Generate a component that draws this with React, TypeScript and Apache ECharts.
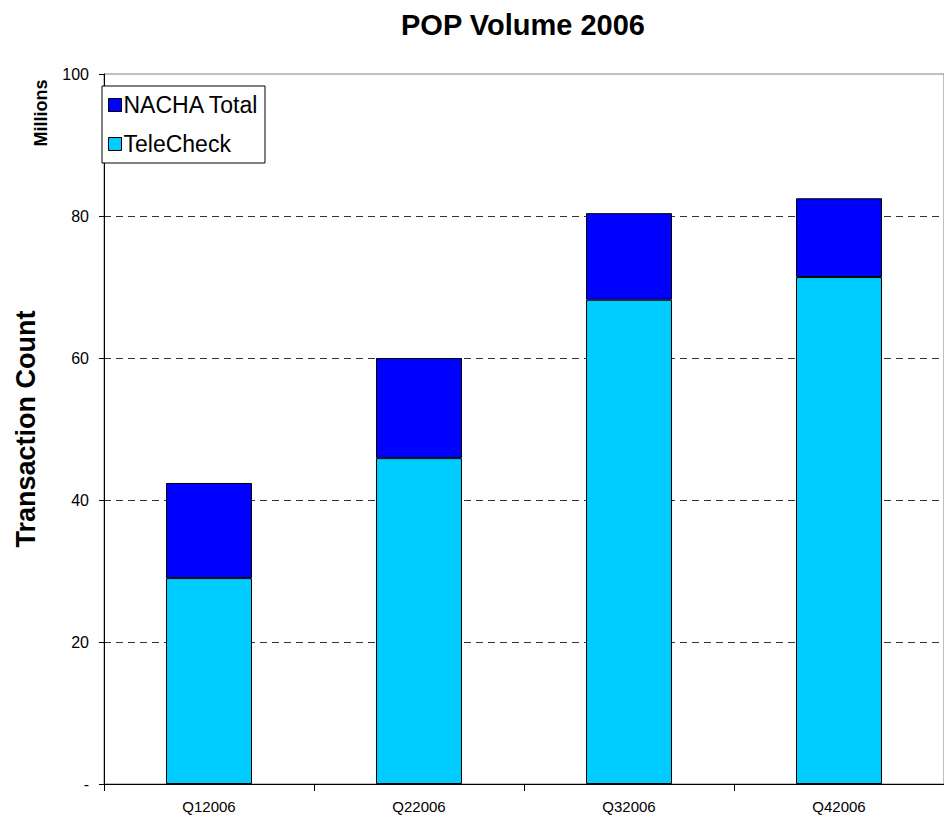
import React, { useEffect, useRef } from "react";
import * as echarts from "echarts";

const categories = ["Q12006", "Q22006", "Q32006", "Q42006"];
const teleCheck = [29.0, 45.9, 68.2, 71.4];
const nachaTotal = [13.4, 14.1, 12.2, 11.1];
const yTicks = [0, 20, 40, 60, 80, 100];

const FONT = "'Liberation Sans', Arial, sans-serif";

export default function App() {
  const ref = useRef<HTMLDivElement>(null);
  useEffect(() => {
    if (!ref.current) return;
    const chart = echarts.init(ref.current, undefined, { renderer: "svg" });
    chart.setOption({
      animation: false,
      backgroundColor: "#ffffff",
      title: {
        text: "POP Volume 2006",
        left: 396,
        top: 5,
        textStyle: { fontFamily: FONT, fontSize: 29, fontWeight: "bold", color: "#000" },
      },
      legend: {
        orient: "vertical",
        left: 102,
        top: 86,
        data: ["NACHA Total", "TeleCheck"],
        icon: "rect",
        itemWidth: 13,
        itemHeight: 13,
        itemGap: 11,
        padding: [5, 6, 5, 6],
        borderColor: "#000",
        borderWidth: 1,
        backgroundColor: "#fff",
        textStyle: { fontFamily: FONT, fontSize: 23, color: "#000", lineHeight: 28, padding: [0, 0, 0, -3] },
        itemStyle: { borderColor: "#000", borderWidth: 1 },
      },
      grid: {
        left: 104,
        top: 74,
        right: 0,
        bottom: 38,
        show: true,
        borderColor: "#808080",
        borderWidth: 1,
        containLabel: false,
        outerBoundsMode: "none",
      },
      xAxis: {
        type: "category",
        data: categories,
        boundaryGap: true,
        axisLine: { lineStyle: { color: "#000", width: 1 } },
        axisTick: { show: true, interval: 0, length: 7, alignWithLabel: false, lineStyle: { color: "#000" } },
        axisLabel: { fontFamily: FONT, fontSize: 15, color: "#000", margin: 15, interval: 0 },
      },
      yAxis: {
        type: "value",
        min: 0,
        max: 100,
        interval: 20,
        name: "Transaction Count",
        nameLocation: "middle",
        nameRotate: 90,
        nameGap: 65,
        nameTextStyle: { fontFamily: FONT, fontSize: 27, fontWeight: "bold", color: "#000" },
        axisLine: { show: true, lineStyle: { color: "#000", width: 1 } },
        axisTick: { show: true, length: 5, lineStyle: { color: "#000" } },
        axisLabel: {
          fontFamily: FONT,
          fontSize: 16,
          color: "#000",
          margin: 15,
          formatter: (v: number) => (v === yTicks[0] ? "-" : String(v)),
        },
        splitLine: {
          show: true,
          lineStyle: {
            type: [7, 5],
            color: yTicks.map((t, i) => (i === 0 || i === yTicks.length - 1 ? "transparent" : "#333")),
            width: 1,
          },
        },
      },
      graphic: [
        {
          type: "text",
          x: 41,
          y: 113,
          rotation: Math.PI / 2,
          style: {
            text: "Millions",
            fontFamily: FONT,
            fontSize: 18,
            fontWeight: "bold",
            fill: "#000",
            align: "center",
            verticalAlign: "middle",
          },
        },
      ],
      series: [
        {
          name: "TeleCheck",
          type: "bar",
          stack: "total",
          data: teleCheck,
          barWidth: 86,
          itemStyle: { color: "#00CCFF", borderColor: "#000", borderWidth: 1 },
        },
        {
          name: "NACHA Total",
          type: "bar",
          stack: "total",
          data: nachaTotal,
          barWidth: 86,
          itemStyle: { color: "#0000FF", borderColor: "#000", borderWidth: 1 },
        },
      ],
    });
    return () => chart.dispose();
  }, []);
  return (
    <div
      ref={ref}
      style={{ position: "absolute", left: 0, top: 0, width: 944, height: 822 }}
    />
  );
}
